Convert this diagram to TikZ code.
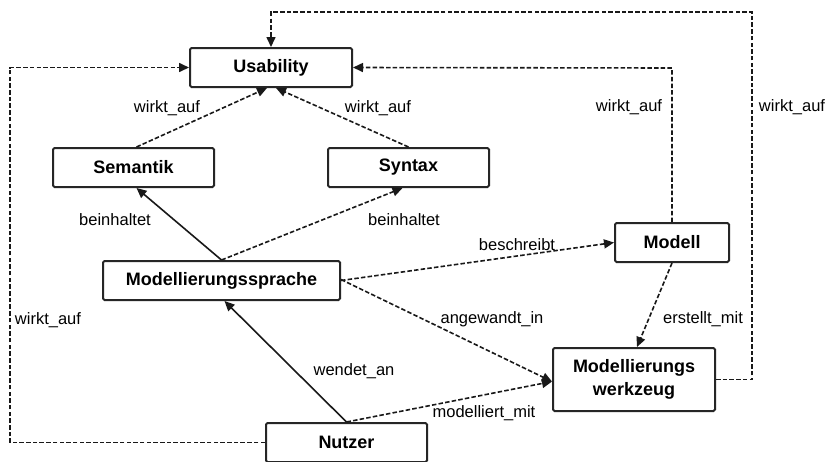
\documentclass[tikz,border=0pt]{standalone}
\usepackage{fontspec}
\setmainfont{Liberation Sans}
\usetikzlibrary{arrows.meta}
\begin{document}
\begin{tikzpicture}[x=1pt,y=-1pt,
  box/.style={draw=black!85,line width=2pt,rounded corners=1.5pt,inner sep=0pt,
    minimum height=39pt,font=\fontsize{18}{20}\selectfont\bfseries,align=center},
  lbl/.style={inner sep=0pt,font=\fontsize{16.5}{18}\selectfont},
  conn/.style={line width=1.6pt,black!90,-{Triangle[length=10pt,width=9pt]}},
  dsh/.style={conn,dash pattern=on 4.5pt off 2.2pt}]
\useasboundingbox (0,0) rectangle (827,461);
\fill[white] (0,0) rectangle (827,461);
% boxes
\node[box,minimum width=162pt] (usab) at (271,67.5) {Usability};
\node[box,minimum width=161pt] (sem) at (133.5,167.5) {Semantik};
\node[box,minimum width=161pt] (syn) at (408.5,167.5) {Syntax};
\node[box,minimum width=237pt] (ms) at (221.5,280.5) {Modellierungssprache};
\node[box,minimum width=114pt] (mod) at (672,242.5) {Modell};
\node[box,minimum width=162pt,minimum height=63pt] (mw) at (634,379.5) {Modellierungs\\[3pt]werkzeug};
\node[box,minimum width=161pt] (nu) at (346.5,442.5) {Nutzer};
% connectors
\draw[dsh] ([xshift=3pt]sem.north) -- ([xshift=-4pt]usab.south);
\draw[dsh] (syn.north) -- ([xshift=5pt]usab.south);
\draw[conn] (ms.north) -- ([xshift=3pt]sem.south);
\draw[dsh] (ms.north) -- ([xshift=-6pt]syn.south);
\draw[dsh] (ms.east) -- (mod.west);
\draw[dsh] ([yshift=1pt]ms.east) -- ([yshift=-2pt]mw.west);
\draw[conn] (nu.north) -- ([xshift=3pt]ms.south);
\draw[dsh] (nu.north) -- ([yshift=-2pt]mw.west);
\draw[dsh] (mod.south) -- ([xshift=3pt]mw.north);
\coordinate (c1) at (672,68);
\draw[dsh] (mod.north) -- (c1) -- (usab.east);
\coordinate (c2) at (752,379.5);
\coordinate (c3) at (752,12);
\coordinate (c4) at (271,12);
\draw[dsh] (mw.east) -- (c2) -- (c3) -- (c4) -- (usab.north);
\coordinate (c5) at (10,442.5);
\coordinate (c6) at (10,67.5);
\draw[dsh] (nu.west) -- (c5) -- (c6) -- (usab.west);
% labels
\node[lbl] (l1) at (167,108) {wirkt\_auf};
\node[lbl] (l2) at (378,108) {wirkt\_auf};
\node[lbl] (l3) at (115,220) {beinhaltet};
\node[lbl] (l4) at (404,220) {beinhaltet};
\node[lbl] (l5) at (517,245) {beschreibt};
\node[lbl] (l6) at (492,319) {angewandt\_in};
\node[lbl] (l7) at (703,319) {erstellt\_mit};
\node[lbl] (l8) at (484,413) {modelliert\_mit};
\node[lbl] (l9) at (354,371) {wendet\_an};
\node[lbl] (l10) at (48,320) {wirkt\_auf};
\node[lbl] (l11) at (629,107) {wirkt\_auf};
\node[lbl] (l12) at (792,107) {wirkt\_auf};
\end{tikzpicture}
\end{document}
